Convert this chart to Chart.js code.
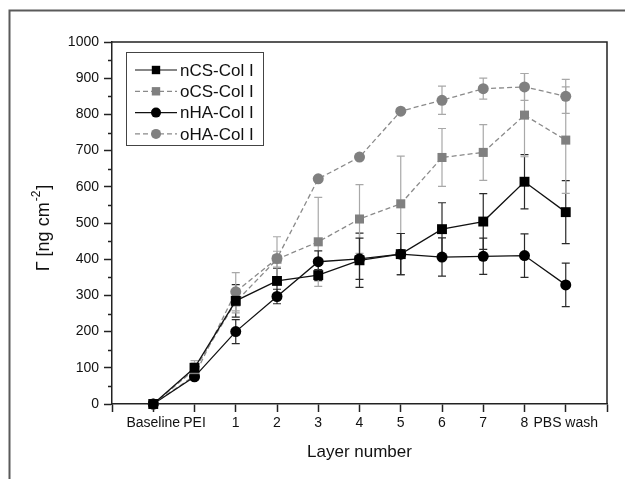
<!DOCTYPE html>
<html>
<head>
<meta charset="utf-8">
<script src="https://cdn.jsdelivr.net/npm/chart.js@4.4.1/dist/chart.umd.min.js"></script>
<style>
  html, body { margin: 0; padding: 0; background: #fff; }
  #wrap { width: 625px; height: 479px; }
</style>
</head>
<body>
<div id="wrap"><canvas id="layerChart" width="625" height="479"></canvas></div>
<script>
// layer labels on the x axis (positions 0..10)
var layerLabels = ['Baseline', 'PEI', '1', '2', '3', '4', '5', '6', '7', '8', 'PBS wash'];

// adsorbed mass, ng cm^-2, with standard deviations
var nCS = [0, 100, 285, 340, 356, 397, 414, 483, 504, 614, 530];
var nCSErr = [0, 12, 45, 35, 15, 75, 57, 73, 77, 75, 87];
var oCS = [0, 95, 282, 400, 448, 511, 553, 681, 695, 798, 729];
var oCSErr = [0, 25, 30, 22, 123, 95, 132, 80, 77, 115, 147];
var nHA = [0, 75, 200, 297, 393, 401, 414, 406, 408, 410, 329];
var nHAErr = [0, 8, 33, 20, 30, 57, 57, 53, 50, 60, 60];
var oHA = [0, 78, 310, 402, 622, 682, 809, 839, 871, 876, 850];
var oHAErr = [0, 10, 53, 60, 4, 4, 4, 39, 29, 37, 47];

var yTicks = [0, 100, 200, 300, 400, 500, 600, 700, 800, 900, 1000];

var FONT = '"Liberation Sans", Arial, sans-serif';

function toPoints(vals) {
    return vals.map(function(v, i) { return { x: i, y: v }; });
}

function makeSet(label, vals, errs, dark, style, r) {
    var col = dark ? '#000000' : '#808080';
    return {
        label: label,
        data: toPoints(vals),
        errors: errs,
        errColor: dark ? '#2a2a2a' : '#a8a8a8',
        borderColor: dark ? '#111111' : '#8a8a8a',
        borderWidth: 1.3,
        borderDash: dark ? [] : [5, 3],
        backgroundColor: col,
        pointStyle: style,
        pointRadius: r,
        pointHoverRadius: r,
        pointBackgroundColor: col,
        pointBorderColor: col,
        pointBorderWidth: 0,
        tension: 0,
        clip: false
    };
}

// error bars, drawn behind the markers
var errorBars = {
    id: 'errorBars',
    beforeDatasetsDraw: function(chart) {
        var ctx = chart.ctx;
        var ys = chart.scales.y;
        chart.data.datasets.forEach(function(ds, di) {
            var meta = chart.getDatasetMeta(di);
            ctx.save();
            ctx.strokeStyle = ds.errColor;
            ctx.lineWidth = 1.2;
            meta.data.forEach(function(pt, i) {
                var e = ds.errors[i];
                if (!e) return;
                var v = ds.data[i].y;
                var top = ys.getPixelForValue(v + e);
                var bot = ys.getPixelForValue(v - e);
                ctx.beginPath();
                ctx.moveTo(pt.x, top); ctx.lineTo(pt.x, bot);
                ctx.moveTo(pt.x - 4, top); ctx.lineTo(pt.x + 4, top);
                ctx.moveTo(pt.x - 4, bot); ctx.lineTo(pt.x + 4, bot);
                ctx.stroke();
            });
            ctx.restore();
        });
    }
};

// frame, plot box, minor ticks, y title, legend
var decorations = {
    id: 'decorations',
    beforeDraw: function(chart) {
        var ctx = chart.ctx;
        ctx.save();
        ctx.fillStyle = '#ffffff';
        ctx.fillRect(0, 0, chart.width, chart.height);
        ctx.strokeStyle = '#5a5a5a';
        ctx.lineWidth = 2;
        ctx.beginPath();
        ctx.moveTo(9.5, chart.height);
        ctx.lineTo(9.5, 10.5);
        ctx.lineTo(chart.width, 10.5);
        ctx.stroke();
        ctx.restore();
    },
    afterDraw: function(chart) {
        var ctx = chart.ctx;
        var a = chart.chartArea;
        var ys = chart.scales.y;
        ctx.save();
        // plot box top and right
        ctx.strokeStyle = '#222';
        ctx.lineWidth = 1.5;
        ctx.beginPath();
        ctx.moveTo(a.left, a.top);
        ctx.lineTo(a.right, a.top);
        ctx.lineTo(a.right, a.bottom);
        ctx.stroke();
        // minor ticks on y
        ctx.beginPath();
        for (var v = 50; v < 1000; v += 100) {
            var py = Math.round(ys.getPixelForValue(v)) + 0.5;
            ctx.moveTo(a.left, py);
            ctx.lineTo(a.left - 4, py);
        }
        ctx.stroke();

        // y axis title with superscript
        ctx.fillStyle = '#111';
        ctx.translate(44, (a.top + a.bottom) / 2 + 6);
        ctx.rotate(-Math.PI / 2);
        ctx.textBaseline = 'middle';
        var p1 = '\u0393 [ng cm', p3 = ']';
        ctx.font = '12px ' + FONT;
        var w2 = ctx.measureText('-2').width;
        ctx.font = '18px ' + FONT;
        var w1 = ctx.measureText(p1).width, w3 = ctx.measureText(p3).width;
        var x0 = -(w1 + w2 + w3) / 2;
        ctx.textAlign = 'left';
        ctx.fillText(p1, x0, 0);
        ctx.font = '12px ' + FONT;
        ctx.fillText('-2', x0 + w1 + 1, -7);
        ctx.font = '18px ' + FONT;
        ctx.fillText(p3, x0 + w1 + w2 + 2, 0);
        ctx.setTransform(1, 0, 0, 1, 0, 0);

        // legend
        var bx = 126, by = 52.5, bw = 137, bh = 93;
        ctx.strokeStyle = '#444';
        ctx.lineWidth = 1;
        ctx.strokeRect(bx + 0.5, by, bw, bh);
        ctx.font = '17px ' + FONT;
        ctx.textAlign = 'left';
        ctx.textBaseline = 'middle';
        chart.data.datasets.forEach(function(ds, i) {
            var ry = 70 + i * 21.3;
            ctx.save();
            ctx.strokeStyle = ds.borderColor;
            ctx.lineWidth = 1.2;
            ctx.setLineDash(ds.borderDash);
            ctx.beginPath();
            ctx.moveTo(135, ry);
            ctx.lineTo(177, ry);
            ctx.stroke();
            ctx.restore();
            ctx.fillStyle = ds.pointBackgroundColor;
            ctx.beginPath();
            if (ds.pointStyle === 'rect') {
                ctx.rect(151.8, ry - 4.2, 8.4, 8.4);
            } else {
                ctx.arc(156, ry, 5, 0, Math.PI * 2);
            }
            ctx.fill();
            ctx.fillStyle = '#111';
            ctx.fillText(ds.label, 180, ry + 1);
        });
        ctx.restore();
    }
};

var chart = new Chart(document.getElementById('layerChart'), {
    type: 'line',
    data: {
        datasets: [
            makeSet('nCS-Col I', nCS, nCSErr, true, 'rect', 7),
            makeSet('oCS-Col I', oCS, oCSErr, false, 'rect', 6.4),
            makeSet('nHA-Col I', nHA, nHAErr, true, 'circle', 5.5),
            makeSet('oHA-Col I', oHA, oHAErr, false, 'circle', 5.5)
        ]
    },
    options: {
        responsive: false,
        animation: false,
        layout: { padding: { top: 42, right: 18, left: 0, bottom: 0 } },
        plugins: {
            legend: { display: false },
            tooltip: { enabled: false }
        },
        scales: {
            x: {
                type: 'linear',
                min: -1,
                max: 11,
                afterFit: function(s) { s.height = 75; },
                afterBuildTicks: function(s) {
                    var t = [];
                    for (var i = -1; i <= 11; i++) t.push({ value: i });
                    s.ticks = t;
                },
                ticks: {
                    autoSkip: false,
                    maxRotation: 0,
                    padding: 3,
                    color: '#111',
                    font: { family: FONT, size: 14 },
                    callback: function(v) { return layerLabels[v] !== undefined ? layerLabels[v] : ''; }
                },
                grid: { drawOnChartArea: false, tickLength: 8, tickColor: '#222', tickWidth: 1.5 },
                border: { color: '#222', width: 1.5 },
                title: {
                    display: true,
                    text: 'Layer number',
                    color: '#111',
                    font: { family: FONT, size: 17 },
                    padding: { top: 0, bottom: 16 }
                }
            },
            y: {
                min: 0,
                max: 1000,
                afterFit: function(s) { s.width = 112; },
                afterBuildTicks: function(s) {
                    s.ticks = yTicks.map(function(v) { return { value: v }; });
                },
                ticks: {
                    padding: 5,
                    color: '#111',
                    font: { family: FONT, size: 14 },
                    callback: function(v) { return String(v); }
                },
                grid: { drawOnChartArea: false, tickLength: 8, tickColor: '#222', tickWidth: 1.5 },
                border: { color: '#222', width: 1.5 }
            }
        }
    },
    plugins: [errorBars, decorations]
});
</script>
</body>
</html>
